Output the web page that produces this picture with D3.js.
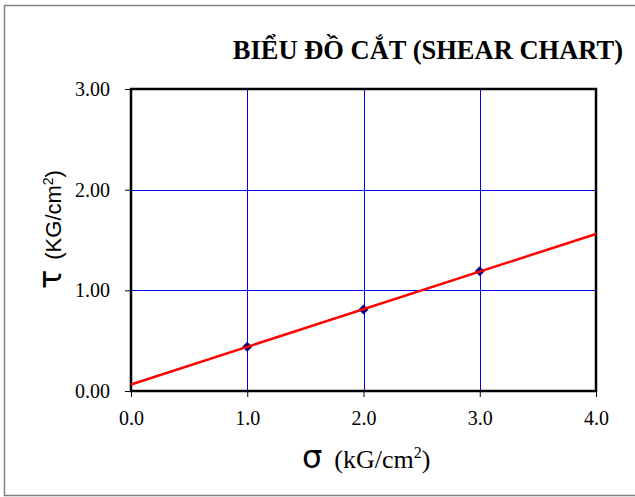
<!DOCTYPE html>
<html lang="vi">
  <head>
    <meta charset="utf-8">
    <title>Biểu đồ cắt</title>
  </head>
  <style>
    body { margin: 0; background: #fff; }
    .axis line { stroke: #000; }
    .axis path { display: none; }
  </style>
  <body>
    <div id="svg-area"></div>
    <script src="https://cdn.jsdelivr.net/npm/d3@7/dist/d3.min.js"></script>
    <script>
      const svg_width = 635;
      const svg_height = 497;

      // normal stress (kG/cm2) and shear stress (kG/cm2)
      const sigma = [1.0, 2.0, 3.0];
      const tau = [0.44, 0.81, 1.19];
      // trend line end points
      const fit_x = [0.0, 4.0];
      const fit_y = [0.065, 1.56];
      const x_ticks = [0, 1, 2, 3, 4];
      const y_ticks = [0, 1, 2, 3];

      const margin = {top: 89, right: 39, bottom: 106, left: 131};

      const svg = d3.select('#svg-area')
        .append('svg')
        .attr('width', svg_width)
        .attr('height', svg_height);

      // outer chart border
      svg.append('rect')
        .attr('x', 4.5).attr('y', 5.5)
        .attr('width', svg_width + 10).attr('height', 490)
        .attr('fill', 'none')
        .attr('stroke', '#808080')
        .attr('stroke-width', 1.5);

      const x_scale = d3.scaleLinear()
        .domain([0, 4])
        .range([margin.left, svg_width - margin.right]);
      const y_scale = d3.scaleLinear()
        .domain([0, 3])
        .range([svg_height - margin.bottom, margin.top]);

      // grid
      svg.append('g')
        .selectAll('line').data(x_ticks.slice(1, -1)).enter()
        .append('line')
        .attr('x1', d => Math.round(x_scale(d)) + 0.5).attr('x2', d => Math.round(x_scale(d)) + 0.5)
        .attr('y1', y_scale(0)).attr('y2', y_scale(3))
        .attr('stroke', '#0000ff');
      svg.append('g')
        .selectAll('line').data(y_ticks.slice(1, -1)).enter()
        .append('line')
        .attr('y1', d => Math.round(y_scale(d)) + 0.5).attr('y2', d => Math.round(y_scale(d)) + 0.5)
        .attr('x1', x_scale(0)).attr('x2', x_scale(4))
        .attr('stroke', '#0000ff');

      // axes
      const gx = svg.append('g')
        .attr('class', 'axis')
        .attr('transform', `translate(0,${y_scale(0)})`)
        .call(d3.axisBottom(x_scale).tickValues(x_ticks).tickFormat(d3.format('.1f'))
          .tickSizeInner(6).tickPadding(14));
      const gy = svg.append('g')
        .attr('class', 'axis')
        .attr('transform', `translate(${x_scale(0)},0)`)
        .call(d3.axisLeft(y_scale).tickValues(y_ticks).tickFormat(d3.format('.2f'))
          .tickSizeInner(6).tickPadding(15));
      svg.selectAll('.axis text')
        .style('font-family', '"Liberation Serif", "Times New Roman", serif')
        .style('font-size', '20px')
        .attr('fill', '#000');

      // plot frame
      svg.append('rect')
        .attr('x', x_scale(0)).attr('y', y_scale(3))
        .attr('width', x_scale(4) - x_scale(0))
        .attr('height', y_scale(0) - y_scale(3))
        .attr('fill', 'none')
        .attr('stroke', '#000')
        .attr('stroke-width', 2.5);

      // data markers
      const diamond = d3.symbol().type(d3.symbolSquare).size(50);
      svg.append('g')
        .selectAll('path').data(sigma).enter()
        .append('path')
        .attr('d', diamond)
        .attr('transform', (d, i) => `translate(${x_scale(d)},${y_scale(tau[i])}) rotate(45)`)
        .attr('fill', '#000080');

      // trend line
      svg.append('line')
        .attr('x1', x_scale(fit_x[0])).attr('y1', y_scale(fit_y[0]))
        .attr('x2', x_scale(fit_x[1])).attr('y2', y_scale(fit_y[1]))
        .attr('stroke', '#ff0000')
        .attr('stroke-width', 2.5);

      // title
      svg.append('text')
        .attr('x', 623).attr('y', 59)
        .attr('text-anchor', 'end')
        .style('font-family', '"Liberation Serif", "Times New Roman", serif')
        .style('font-weight', 'bold')
        .style('font-size', '26.5px')
        .text('BIỂU ĐỒ CẮT (SHEAR CHART)');

      // x axis title
      const xt = svg.append('text')
        .attr('x', 302).attr('y', 468)
        .style('font-family', '"Liberation Serif", "Times New Roman", serif')
        .style('font-size', '26px');
      xt.append('tspan').style('font-size', '32px').style('font-family', '"DejaVu Sans", sans-serif').text('σ');
      xt.append('tspan').attr('dx', 12).text('(kG/cm');
      xt.append('tspan').attr('dy', -10).style('font-size', '16px').text('2');
      xt.append('tspan').attr('dy', 10).text(')');

      // y axis title
      const yt = svg.append('text')
        .attr('transform', 'translate(61,289) rotate(-90)')
        .style('font-family', '"Liberation Sans", Arial, sans-serif')
        .style('font-size', '22px');
      yt.append('tspan').style('font-size', '32px').style('font-family', '"DejaVu Sans", sans-serif').text('τ');
      yt.append('tspan').attr('dx', 10).text('(KG/cm');
      yt.append('tspan').attr('dy', -8).style('font-size', '14px').text('2');
      yt.append('tspan').attr('dy', 8).text(')');
    </script>
  </body>
</html>
